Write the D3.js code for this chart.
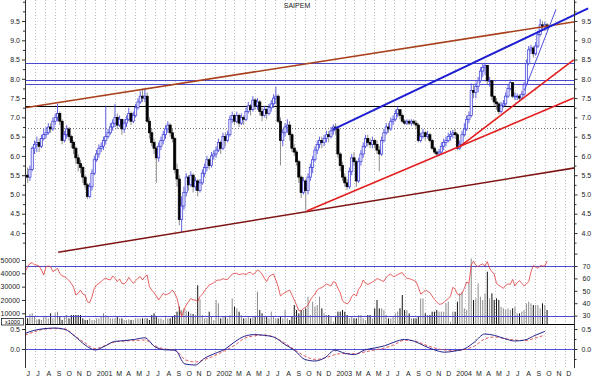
<!DOCTYPE html>
<html><head><meta charset="utf-8">
<script src="https://cdn.jsdelivr.net/npm/d3@7"></script>
<style>html,body{margin:0;padding:0;background:#fff;} svg{display:block;font-family:"Liberation Sans",Arial,sans-serif;}</style>
</head><body><svg id="c" width="600" height="378"></svg>
<script>
const title = "SAIPEM";
const firstWeek = "2000-06-02";
const firstOpen = 5.45;
const closes = [
5.50,5.45,5.65,6.20,6.30, 6.35,6.25,6.45,6.55, 6.60,6.75,6.70,6.90, 7.00,7.10,6.90,6.40,6.55, 6.70,6.50,6.35,6.20, 5.95,5.80,5.70,5.45, 5.25,4.95,5.20,5.55,5.90,
6.05,6.20,6.25,6.40, 6.50,6.60,6.75,6.85, 7.00,6.80,6.95,6.70,6.85, 6.95,7.10,6.90,7.05, 7.25,7.40,7.55,7.50, 7.55,6.90,6.60,6.35,6.20, 5.95,6.25,6.40,6.55, 6.70,6.80,6.60,6.45,5.65, 5.40,4.35,4.70,5.05, 5.45,5.25,5.50,5.20, 5.35,5.10,5.30,5.55,5.70, 5.90,5.75,6.00,6.05,
6.15,6.35,6.20,6.50, 6.40,6.55,6.95,7.05, 6.90,7.05,6.85,7.00,6.95, 7.15,7.30,7.20,7.45, 7.30,7.40,7.15,7.05,7.20, 7.10,7.25,7.35,7.50, 7.55,6.90,6.40,6.60, 6.75,6.80,6.55,6.20,6.10, 5.85,5.45,5.05,5.35, 5.10,5.45,5.70,5.90, 6.15,6.30,6.40,6.35,6.45, 6.55,6.50,6.65,6.75,
6.70,6.05,5.75,5.45,5.30, 5.20,5.60,5.95,5.85, 5.35,5.85,6.05,6.25, 6.45,6.35,6.30,6.40, 6.30,6.15,6.05,6.40,6.60, 6.75,6.70,6.90,6.95, 7.10,7.20,7.05,6.90, 6.85,6.90,6.85,6.90,6.85, 6.80,6.40,6.50,6.60, 6.50,6.55,6.40,6.20,6.10, 6.05,6.10,6.25,6.35, 6.40,6.50,6.55,6.60,
6.55,6.20,6.30,6.55,6.70, 6.95,7.05,7.70,7.65, 7.80,7.95,8.20,8.30, 8.35,7.95,7.95,7.55,7.40, 7.35,7.15,7.30,7.35, 7.55,7.75,7.90,7.55, 7.55,7.55,7.50,7.60,7.85, 8.40,8.75,8.80,8.65, 8.85,9.15,9.40,9.35, 9.40,9.35];
const highs = [
5.60,5.70,5.75,6.25,6.40, 6.50,6.45,6.55,6.70, 6.75,6.85,6.85,7.00, 7.10,7.35,7.15,6.95,6.65, 6.80,6.75,6.55,6.40, 6.25,6.05,5.90,5.75, 5.50,5.30,5.30,5.65,6.00,
6.15,6.30,6.35,6.50, 7.30,6.70,6.85,6.95, 7.35,7.10,7.05,6.95,6.95, 7.05,7.25,7.15,7.15, 7.35,7.50,7.68,7.75, 7.75,7.65,7.00,6.70,6.45, 6.25,6.35,6.50,6.65, 6.80,6.90,6.85,6.70,6.50, 5.80,5.50,4.95,5.20, 5.55,5.50,5.60,5.55, 5.45,5.40,5.40,5.65,5.80, 6.00,5.95,6.10,6.15,
6.25,6.45,6.40,6.60, 6.60,6.65,7.05,7.15, 7.10,7.15,7.10,7.10,7.05, 7.25,7.40,7.35,7.55, 7.50,7.50,7.45,7.25,7.30, 7.25,7.35,7.45,7.60, 7.80,7.60,7.00,6.70, 6.85,6.95,6.90,6.60,6.30, 6.15,5.90,5.50,5.45, 5.40,5.55,5.80,6.00, 6.25,6.40,6.50,6.50,6.55, 6.65,6.65,6.75,6.82,
6.85,6.75,6.10,5.85,5.55, 5.40,5.70,6.05,6.10, 5.90,5.95,6.15,6.35, 6.55,6.55,6.45,6.50, 6.45,6.40,6.25,6.50,6.70, 6.85,6.85,7.00,7.05, 7.20,7.28,7.20,7.10, 6.95,6.95,6.95,6.95,6.95, 6.92,6.85,6.60,6.70, 6.65,6.65,6.60,6.45,6.25, 6.15,6.18,6.35,6.45, 6.50,6.60,6.65,6.68,
6.70,6.60,6.40,6.65,6.85, 7.05,7.15,7.88,7.85, 7.90,8.05,8.30,8.40, 8.42,8.35,8.05,7.95,7.55, 7.50,7.40,7.40,7.45, 7.65,7.85,7.98,7.90, 7.65,7.62,7.60,7.68,7.92, 8.50,8.85,8.88,8.85, 8.95,9.25,9.55,9.50, 9.48,9.45];
const lows = [
5.40,5.30,5.35,5.60,6.05, 6.10,6.10,6.20,6.40, 6.45,6.55,6.60,6.65, 6.80,6.90,6.80,6.30,6.35, 6.45,6.40,6.20,6.05, 5.80,5.60,5.55,5.30, 5.15,4.88,4.90,5.10,5.50,
5.85,5.95,6.10,6.15, 6.30,6.45,6.55,6.65, 6.75,6.70,6.75,6.55,6.60, 6.75,6.90,6.80,6.85, 7.00,7.20,7.35,7.40, 7.40,6.85,6.45,6.25,6.05, 5.30,5.85,6.15,6.30, 6.45,6.60,6.50,6.35,5.55, 5.20,4.20,4.03,4.60, 4.95,5.10,5.20,5.05, 5.10,4.95,5.05,5.25,5.45, 5.60,5.65,5.70,5.90,
5.95,6.10,6.05,6.15, 6.25,6.35,6.50,6.85, 6.80,6.85,6.75,6.80,6.80, 6.90,7.10,7.05,7.15, 7.20,7.20,7.05,6.90,7.00, 6.95,7.05,7.15,7.25, 7.35,6.85,5.75,6.25, 6.50,6.60,6.40,6.10,6.00, 5.75,5.30,4.90,5.00, 4.60,5.00,5.35,5.55, 5.85,6.05,6.20,6.20,6.25, 6.35,6.35,6.45,6.55,
6.55,5.95,5.60,5.35,5.20, 5.12,5.15,5.50,5.75, 5.20,5.30,5.75,5.95, 6.20,6.25,6.20,6.20, 6.20,6.05,5.60,6.00,6.35, 6.55,6.60,6.65,6.80, 6.90,7.00,6.95,6.85, 6.80,6.80,6.80,6.78,6.80, 6.70,6.35,6.35,6.45, 6.40,6.45,6.35,6.15,6.05, 5.98,6.00,6.05,6.15, 6.25,6.35,6.40,6.45,
6.45,6.15,6.15,6.25,6.50, 6.65,6.85,7.00,7.50, 7.50,7.65,7.90,8.05, 8.10,7.85,7.80,7.45,7.30, 7.20,7.08,7.10,7.25, 7.30,7.50,7.70,7.50, 7.45,7.45,7.42,7.45,7.55, 7.85,8.35,8.65,8.55, 8.60,8.80,9.10,9.25, 9.25,9.25];
const volumes = [
6200,6200,9500,10000,7400,5500,5500,5000,7400,7400,
6200,10000,6200,10000,11200,7400,5000,7400,8700,6200,
8700,8700,8700,8700,8700,6200,5000,5000,6200,5000,
5000,6200,6200,7400,10000,8700,7400,6200,6200,6200,
7400,6200,6200,5000,5000,5500,5000,5000,6200,6200,
6200,6200,6200,6200,5000,8700,10000,7400,6200,6200,
5000,7400,6200,6200,7400,8700,11200,15000,12500,13700,
12000,11200,10000,9500,8700,31000,20500,8700,6200,6200,
11200,7400,5000,19950,17450,6200,7400,7400,6200,8700,
21200,14950,13700,11200,8700,6200,6200,7400,6200,7400,
7400,26200,12450,9950,7450,7450,6200,11200,7450,6200,
6200,7450,6200,12450,6200,4950,7450,16200,12450,9950,
12450,12450,13700,22450,8700,18700,14950,16200,22450,13700,
9950,8700,8700,7450,3700,7450,11200,11200,12450,11200,
8700,6200,7450,6200,6200,8700,8700,6200,4950,8700,
8700,6200,13700,19950,13700,13700,12450,8700,6200,6200,
7450,9950,11200,13700,23700,12450,12450,9950,6200,6200,
6200,7450,21200,21200,9950,8700,8700,11200,11200,12450,
11200,11200,11200,17450,18700,3700,11200,11200,18700,24950,
26200,13700,12450,32450,51200,19950,21200,32450,22450,19950,
24950,41200,21200,24950,19950,21200,19950,14950,13700,12450,
13700,12450,13700,14950,9950,9950,11200,12450,17450,18700,
17450,16200,16200,16200,13700,17450,16200,12450];
const rsi = [
65.4,69.5,72,72.7,70.8,70.8,70,66.8,62.7,69.5,
70,69.5,65.4,66.8,68.1,64.1,62,61.4,60.1,58.2,
56,52.8,46.6,48,50.6,47.4,46.6,41.2,40.4,45.3,
52,54.7,56,57.4,59.2,60.1,59.2,58.7,62,60.1,
57.4,59.6,56,55.5,57.4,60.9,58.2,56,58.2,60.1,
61.4,58.7,61.4,62.7,53.3,50.6,48.5,45.8,42.6,45.3,
48,46.6,47.4,48.5,50.6,48,43.9,35.9,29.1,34.5,
38.5,41.2,43.9,42.6,42.6,41.2,45.3,47.2,50.1,52.3,
54.7,55.5,56.6,58.2,58.7,58.7,59.8,59.2,59.2,61.4,
63.5,64.1,64.1,63,63.5,63.8,63,64.6,64.9,63,
64.6,66.8,65.7,63.5,60.1,57.4,61.4,62.7,63.5,58.7,
53.3,45.8,47.4,48.5,49.6,50.6,46.6,42.6,38.5,34,
33.7,35.9,36.7,38.5,42.6,45.3,47.4,50.6,52,52.5,
53.9,55.5,54.7,53.9,57.4,56.6,52,48.5,42,40.4,
39.4,41.2,45.3,47.4,45.8,51.2,53.9,58.7,56,55.2,
56,57.1,58.2,59.8,59.2,58.2,57.6,60.9,62.5,63.5,
61.4,61.9,63,64.1,64.6,61.9,60.1,59.8,59.2,58.4,
57.4,52.8,47.4,48.5,50.6,49.6,48.5,45.8,43.1,41,
39.1,39.4,40.4,42.3,43.7,45.8,52.8,51.2,47.4,46.6,
48,52,57.1,56,70.8,74,70.5,69.5,71,71.6,
70,73.5,68.1,65.4,63.5,56,54.4,53.3,52,54.4,
55.5,55.2,59.2,53.9,56.6,58.2,56,53.9,55.5,57.4,
65.4,70.3,69.5,68.1,70.3,70,70,74];
const macdStart = "2000-06-01";
const macdLine = [0.39,0.47,0.51,0.525,0.49,0.31,0.10,-0.025,0.08,0.19,
0.21,0.24,0.28,0.06,-0.02,-0.03,-0.375,-0.40,-0.225,-0.11,
0.0,0.175,0.32,0.36,0.34,0.29,0.115,-0.04,-0.26,-0.30,
-0.22,-0.03,-0.11,-0.14,-0.025,0.025,0.08,0.175,0.24,0.19,
0.075,-0.025,-0.08,-0.05,0.01,0.175,0.375,0.34,0.26,0.20,
0.225,0.34,0.44];
const macdSignal = [0.35,0.43,0.50,0.51,0.50,0.32,0.15,0.01,0.09,0.175,
0.20,0.21,0.225,0.075,0.0,-0.03,-0.26,-0.325,-0.26,-0.16,
-0.035,0.09,0.27,0.33,0.35,0.29,0.15,-0.025,-0.175,-0.26,
-0.225,-0.14,-0.11,-0.12,-0.075,-0.025,0.025,0.11,0.22,0.20,
0.11,0.025,-0.025,-0.04,-0.01,0.075,0.25,0.30,0.26,0.225,
0.21,0.27,0.35];
const priceTicks = [4.0,4.5,5.0,5.5,6.0,6.5,7.0,7.5,8.0,8.5,9.0,9.5];
const priceMinorTicks = [3.75,4.25,4.75,5.25,5.75,6.25,6.75,7.25,7.75,8.25,8.75,9.25,9.75,10.0];
const volumeTicks = [10000,20000,30000,40000,50000];
const rsiTicks = [30,40,50,60,70];
const rsiMinor = [80];
const rsiBands = [70,30];
const macdTicks = [0.0,0.5];
const macdMinor = [-0.25,0.25];
const monthLetters = ["J","F","M","A","M","J","J","A","S","O","N","D"];
const levelsBlue = [8.41,7.97,7.86];
const levelsBlack = [7.29];
const levelsDotted = [6.72];
const trendUpper = [["2000-06-01",7.25],["2005-01-01",9.48]];
const trendLower = [["2000-09-10",3.5],["2005-01-01",5.69]];
const trendBlue = [["2002-12-25",6.68],["2005-02-10",9.83]];
const trendRedA = [["2002-10-07",4.57],["2004-12-28",7.50]];
const trendRedB = [["2004-01-14",6.23],["2004-12-28",8.49]];
const trendThin = [["2004-07-31",7.70],["2004-11-04",9.80]];

const parse = d3.timeParse("%Y-%m-%d");
const svg = d3.select("#c");
const L = 25, R = 574.5;
const x = d3.scaleTime().domain([parse("2000-06-01"), parse("2005-01-01")]).range([25, 575]);
const yP = d3.scaleLinear().domain([4, 9.5]).range([233, 21]);
const yV = d3.scaleLinear().domain([0, 50000]).range([326.6, 260]);
const yR = d3.scaleLinear().domain([30, 70]).range([315.6, 266]);
const yM = d3.scaleLinear().domain([0, 0.5]).range([349, 329]);

const start = parse(firstWeek);
const weeks = closes.map((c, i) => ({
  date: d3.timeDay.offset(start, 7 * i),
  o: i === 0 ? firstOpen : closes[i - 1], c, h: highs[i], l: lows[i], v: volumes[i], r: rsi[i]
}));
const mStart = parse(macdStart);
const macd = macdLine.map((v, i) => ({date: d3.timeMonth.offset(mStart, i), m: v, s: macdSignal[i]}));

const defs = svg.append("defs");
defs.append("clipPath").attr("id","cMain").append("rect").attr("x",L).attr("y",0).attr("width",600-L).attr("height",257);
defs.append("clipPath").attr("id","cMainIn").append("rect").attr("x",L).attr("y",0).attr("width",R-L).attr("height",257);
defs.append("clipPath").attr("id","cVol").append("rect").attr("x",L).attr("y",252).attr("width",R-L).attr("height",72);
defs.append("clipPath").attr("id","cMacd").append("rect").attr("x",L).attr("y",324).attr("width",R-L).attr("height",44);

// month grid
const months = d3.timeMonth.range(parse("2000-06-01"), parse("2005-01-01"));
svg.append("g").selectAll("line").data(months.slice(1)).join("line")
  .attr("x1", d => Math.round(x(d)) + 0.5).attr("x2", d => Math.round(x(d)) + 0.5)
  .attr("y1", 0).attr("y2", 368)
  .attr("stroke", "#bdbdbd").attr("stroke-width", 1).attr("stroke-dasharray", "1,2");

// horizontal levels
const gMain = svg.append("g").attr("clip-path","url(#cMainIn)");
gMain.selectAll(".ld").data(levelsDotted).join("line")
  .attr("x1", L).attr("x2", R).attr("y1", d => Math.round(yP(d))+0.5).attr("y2", d => Math.round(yP(d))+0.5)
  .attr("stroke", "#777").attr("stroke-dasharray", "1,2");
gMain.selectAll(".lb").data(levelsBlue).join("line")
  .attr("x1", L).attr("x2", R).attr("y1", d => Math.round(yP(d))+0.5).attr("y2", d => Math.round(yP(d))+0.5)
  .attr("stroke", "#4b4bd0").attr("stroke-width", 1);
gMain.selectAll(".lk").data(levelsBlack).join("line")
  .attr("x1", L).attr("x2", R).attr("y1", d => Math.round(yP(d))+0.5).attr("y2", d => Math.round(yP(d))+0.5)
  .attr("stroke", "#000").attr("stroke-width", 1.2);

// candles
const gC = svg.append("g").attr("clip-path","url(#cMainIn)");
weeks.forEach(d => {
  const up = d.c >= d.o;
  const cx = x(d.date);
  gC.append("line").attr("x1", cx).attr("x2", cx).attr("y1", yP(d.h)).attr("y2", yP(d.l))
    .attr("stroke", up ? "#5050e0" : "#808080").attr("stroke-width", 0.9);
  const top = yP(Math.max(d.o, d.c)), bot = yP(Math.min(d.o, d.c));
  gC.append("rect").attr("x", cx - 1.1).attr("width", 2.2).attr("y", top).attr("height", Math.max(0.8, bot - top))
    .attr("fill", up ? "#ececff" : "#000").attr("stroke", up ? "#3a3ad6" : "#000").attr("stroke-width", 0.7);
});

// trendlines
const tl = (pts, color, w, clip) => {
  const g = svg.append("g").attr("clip-path", clip);
  g.append("path").attr("d", d3.line().x(p => x(parse(p[0]))).y(p => yP(p[1]))(pts))
    .attr("fill","none").attr("stroke", color).attr("stroke-width", w);
};
tl(trendLower, "#7e1414", 1.6, "url(#cMainIn)");
tl(trendUpper, "#a8401c", 1.6, "url(#cMainIn)");
tl(trendRedA, "#e41e1e", 1.6, "url(#cMainIn)");
tl(trendRedB, "#e41e1e", 1.6, "url(#cMainIn)");
tl(trendThin, "#3c3cdc", 0.9, "url(#cMain)");
tl(trendBlue, "#1e1ed2", 2, "url(#cMain)");

// volume panel
const gV = svg.append("g").attr("clip-path","url(#cVol)");
gV.selectAll("line").data(weeks).join("line")
  .attr("x1", d => x(d.date)).attr("x2", d => x(d.date))
  .attr("y1", yV(0)).attr("y2", d => yV(d.v))
  .attr("stroke", d => d.c >= d.o ? "#8c8c8c" : "#111").attr("stroke-width", 1);
svg.selectAll(".rb").data(rsiBands).join("line")
  .attr("x1", L).attr("x2", R).attr("y1", d => Math.round(yR(d))+0.5).attr("y2", d => Math.round(yR(d))+0.5)
  .attr("stroke", "#4b4bd0").attr("stroke-width", 1);
svg.append("path").datum(weeks).attr("clip-path","url(#cVol)")
  .attr("d", d3.line().x(d => x(d.date)).y(d => yR(d.r)))
  .attr("fill","none").attr("stroke","#e23a3a").attr("stroke-width", 0.8);
svg.append("line").attr("x1", L).attr("x2", R).attr("y1", 324.5).attr("y2", 324.5).attr("stroke","#000");

// macd panel
svg.append("line").attr("x1", L).attr("x2", R).attr("y1", Math.round(yM(0))+0.5).attr("y2", Math.round(yM(0))+0.5)
  .attr("stroke","#5050d8").attr("stroke-width",1);
const gM = svg.append("g").attr("clip-path","url(#cMacd)");
gM.append("path").datum(macd).attr("d", d3.line().curve(d3.curveMonotoneX).x(d => x(d.date)).y(d => yM(d.s)))
  .attr("fill","none").attr("stroke","#e04848").attr("stroke-width",0.9).attr("stroke-dasharray","3,2");
gM.append("path").datum(macd).attr("d", d3.line().curve(d3.curveMonotoneX).x(d => x(d.date)).y(d => yM(d.m)))
  .attr("fill","none").attr("stroke","#22228e").attr("stroke-width",1);

// axis frame lines
svg.append("line").attr("x1", L+0.5).attr("x2", L+0.5).attr("y1", 0).attr("y2", 368).attr("stroke","#333");
svg.append("line").attr("x1", R).attr("x2", R).attr("y1", 0).attr("y2", 368).attr("stroke","#333");

function styleAxis(g) {
  g.select(".domain").remove();
  g.selectAll("text").attr("font-size", 7).attr("fill", "#222").attr("font-family", '"Liberation Sans",Arial,sans-serif');
  g.selectAll("line").attr("stroke", "#333");
}
const fmt1 = d3.format(".1f");
svg.append("g").attr("transform", `translate(${L},0)`)
  .call(d3.axisLeft(yP).tickValues(priceTicks).tickFormat(fmt1).tickSize(3).tickPadding(2)).call(styleAxis);
svg.append("g").attr("transform", `translate(${R},0)`)
  .call(d3.axisRight(yP).tickValues(priceTicks).tickFormat(fmt1).tickSize(3).tickPadding(4)).call(styleAxis);
svg.append("g").attr("transform", `translate(${L},0)`)
  .call(d3.axisLeft(yP).tickValues(priceMinorTicks.filter(v => yP(v) < 256)).tickFormat("").tickSize(2)).call(styleAxis);
svg.append("g").attr("transform", `translate(${R},0)`)
  .call(d3.axisRight(yP).tickValues(priceMinorTicks.filter(v => yP(v) < 256)).tickFormat("").tickSize(2)).call(styleAxis);
svg.append("g").attr("transform", `translate(${L},0)`)
  .call(d3.axisLeft(yV).tickValues(volumeTicks).tickFormat(d3.format("d")).tickSize(3).tickPadding(2)).call(styleAxis);
svg.append("g").attr("transform", `translate(${R},0)`)
  .call(d3.axisRight(yR).tickValues(rsiTicks).tickFormat(d => d).tickSize(3).tickPadding(5)).call(styleAxis);
svg.append("g").attr("transform", `translate(${R},0)`)
  .call(d3.axisRight(yR).tickValues(rsiMinor).tickFormat("").tickSize(3)).call(styleAxis);
svg.append("g").attr("transform", `translate(${L},0)`)
  .call(d3.axisLeft(yM).tickValues(macdTicks).tickFormat(fmt1).tickSize(3).tickPadding(2)).call(styleAxis);
svg.append("g").attr("transform", `translate(${R},0)`)
  .call(d3.axisRight(yM).tickValues(macdTicks).tickFormat(fmt1).tickSize(3).tickPadding(4)).call(styleAxis);
svg.append("g").attr("transform", `translate(${R},0)`)
  .call(d3.axisRight(yM).tickValues(macdMinor).tickFormat("").tickSize(2)).call(styleAxis);

// x1000 box
svg.append("rect").attr("x", 1.5).attr("y", 318.5).attr("width", 22).attr("height", 6.5).attr("fill","#fff").attr("stroke","#000").attr("stroke-width",0.7);
svg.append("text").attr("x", 12.5).attr("y", 324).attr("text-anchor","middle").attr("font-size", 5.5).text("x1000");

// month labels
svg.append("g").selectAll("text").data(months.filter(d => d.getMonth() !== 1)).join("text")
  .attr("x", d => x(d) + 1.5).attr("y", 376).attr("font-size", 7).attr("fill","#222")
  .text(d => d.getMonth() === 0 ? d.getFullYear() : monthLetters[d.getMonth()]);

// title
svg.append("text").attr("x", 297).attr("y", 8).attr("text-anchor","middle").attr("font-size", 7).attr("fill","#222").text(title);
</script></body></html>
